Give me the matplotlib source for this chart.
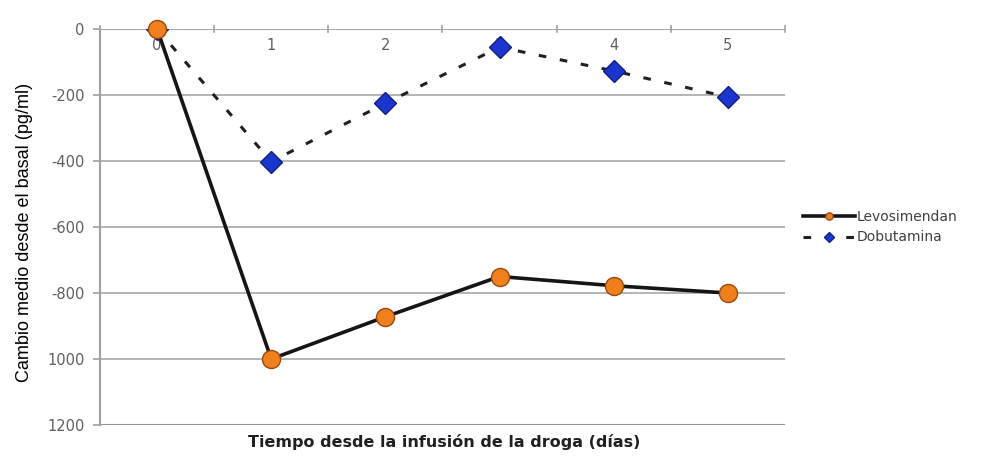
import matplotlib
matplotlib.use("Agg")
import matplotlib.pyplot as plt

days = [0, 1, 2, 3, 4, 5]
day_labels = ["0", "1", "2", "3", "4", "5"]
levosimendan = [0, -1000, -872, -750, -778, -800]
dobutamina = [0, -402, -225, -55, -127, -206]
y_ticks = [0, -200, -400, -600, -800, -1000, -1200]
y_tick_labels = ["0", "-200", "-400", "-600", "-800", "1000", "1200"]

W, H = 991, 463
fig = plt.figure(figsize=(W / 100, H / 100), dpi=100)
ax = fig.add_axes([100 / W, 1 - 425 / H, (785 - 100) / W, (425 - 29) / H])

ax.set_xlim(-0.5, 5.5)
ax.set_ylim(-1200, 0)
for s in ["right", "bottom", "top"]:
    ax.spines[s].set_visible(False)
ax.spines["left"].set_color("#a0a0a0")
ax.spines["left"].set_linewidth(1.5)

for yv in y_ticks:
    ax.axhline(yv, color="#a8a8a8" if yv != -1200 else "#909090",
               lw=1.5 if yv in (0, -1200) else 1.2, zorder=1)

ax.set_yticks(y_ticks)
ax.set_yticklabels(y_tick_labels, color="#606060", fontsize=10.5, family="DejaVu Sans")
ax.tick_params(axis="y", length=5, color="#a0a0a0", width=1.2, pad=6)

ax.set_xticks(days)
ax.set_xticklabels([])
ax.tick_params(axis="x", length=0)
for d, lab in zip(days, day_labels):
    ax.text(d, -50, lab, ha="center", va="center", fontsize=10.5, color="#606060")
for xt in [-0.5 + i for i in range(7)]:
    ax.plot([xt, xt], [8, -8], color="#a0a0a0", lw=1.2, clip_on=False, zorder=2)

ax.plot(days, dobutamina, color="#202020", lw=2.2, ls=(0, (2.5, 4.5)),
        marker="D", ms=11.5, mfc="#1a35d0", mec="#102080", mew=1, zorder=3,
        label="Dobutamina")
ax.plot(days, levosimendan, color="#151515", lw=2.6,
        marker="o", ms=13, mfc="#f07f1c", mec="#9a4a10", mew=1, zorder=4,
        label="Levosimendan", clip_on=False)

fig.text(25 / W, 1 - 232 / H, "Cambio medio desde el basal (pg/ml)",
         family="Liberation Sans", fontsize=13, rotation=90,
         ha="center", va="center")
fig.text(444 / W, 1 - 442 / H, "Tiempo desde la infusión de la droga (días)",
         ha="center", va="center", fontsize=11.5, fontweight="bold", color="#202020")

handles, labels = ax.get_legend_handles_labels()
leg = fig.legend([handles[1], handles[0]], [labels[1], labels[0]],
                 loc="center left", bbox_to_anchor=(790 / W, 1 - 227 / H),
                 frameon=False, fontsize=10, handlelength=3.8, handletextpad=0.1,
                 markerscale=0.4, labelspacing=0.5)
for t in leg.get_texts():
    t.set_color("#404040")

fig.savefig("out.png", dpi=100)
